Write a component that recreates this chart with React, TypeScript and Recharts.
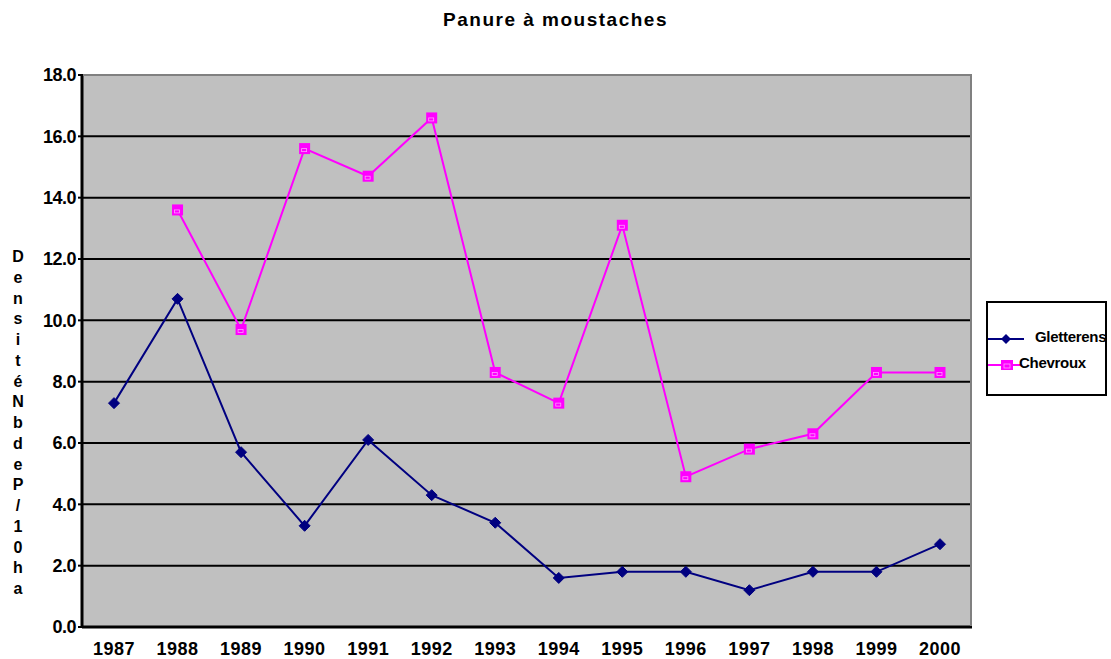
import React from "react";
import { LineChart, Line, XAxis, YAxis, CartesianGrid } from "recharts";

const years = ["1987", "1988", "1989", "1990", "1991", "1992", "1993", "1994", "1995", "1996", "1997", "1998", "1999", "2000"];
const gletterens = [7.3, 10.7, 5.7, 3.3, 6.1, 4.3, 3.4, 1.6, 1.8, 1.8, 1.2, 1.8, 1.8, 2.7];
const chevroux: (number | null)[] = [null, 13.6, 9.7, 15.6, 14.7, 16.6, 8.3, 7.3, 13.1, 4.9, 5.8, 6.3, 8.3, 8.3];
const yTicks = [0, 2, 4, 6, 8, 10, 12, 14, 16, 18];
const title = "Panure à moustaches";
const yLabel = "DensitéNbdeP/10ha";
const seriesNames = ["Gletterens", "Chevroux"];

const data = years.map((y, i) => ({ year: y, g: gletterens[i], c: chevroux[i] }));

const NAVY = "#000080";
const MAGENTA = "#FF00FF";
const FONT = "'Liberation Sans', Arial, sans-serif";

const Diamond = (props: any) => {
  const { cx, cy } = props;
  if (cx == null || cy == null || props.value == null) return null;
  const s = 5.5;
  return (
    <path
      key={`d-${props.index}`}
      d={`M${cx},${cy - s} L${cx + s},${cy} L${cx},${cy + s} L${cx - s},${cy} Z`}
      fill={NAVY}
      stroke={NAVY}
    />
  );
};

const Square = (props: any) => {
  const { cx, cy } = props;
  if (cx == null || cy == null || props.value == null) return null;
  const s = 5.5;
  return (
    <g key={`s-${props.index}`}>
      <rect x={cx - s} y={cy - s} width={2 * s} height={2 * s} fill={MAGENTA} />
      <rect x={cx - 3} y={cy} width={5} height={3} fill="none" stroke="#FF9CFF" strokeWidth={0.8} />
    </g>
  );
};

export default function App() {
  return (
    <div style={{ position: "absolute", left: 0, top: 0, width: 1111, height: 659, background: "#fff", fontFamily: FONT }}>
      <div
        style={{
          position: "absolute",
          left: 0,
          width: 1111,
          top: 9,
          textAlign: "center",
          fontWeight: "bold",
          fontSize: 19,
          letterSpacing: 1.5,
          color: "#000",
        }}
      >
        {title}
      </div>
      <LineChart
        width={1111}
        height={659}
        data={data}
        margin={{ top: 75, right: 139, bottom: 2, left: 22 }}
      >
        <CartesianGrid vertical={false} horizontal={true} stroke="#000" strokeWidth={2} fill="#C0C0C0" fillOpacity={1} />
        <XAxis
          dataKey="year"
          padding={{ left: 32, right: 32 }}
          axisLine={{ stroke: "#000", strokeWidth: 3 }}
          tickLine={false}
          height={30}
          tick={{ fill: "#000", fontSize: 18, fontWeight: "bold", fontFamily: FONT, letterSpacing: 0.5 }}
          tickMargin={9}
          interval={0}
        />
        <YAxis
          domain={[0, 18]}
          ticks={yTicks}
          width={60}
          axisLine={{ stroke: "#000", strokeWidth: 3 }}
          tickLine={{ stroke: "#000", strokeWidth: 2 }}
          tickSize={4}
          tick={{ fill: "#000", fontSize: 18, fontWeight: "bold", fontFamily: FONT, letterSpacing: -0.5 }}
          tickFormatter={(v: number) => v.toFixed(1)}
          interval={0}
        />
        <Line
          type="linear"
          dataKey="g"
          stroke={NAVY}
          strokeWidth={2}
          dot={Diamond}
          activeDot={false}
          isAnimationActive={false}
        />
        <Line
          type="linear"
          dataKey="c"
          stroke={MAGENTA}
          strokeWidth={2}
          dot={Square}
          activeDot={false}
          isAnimationActive={false}
          connectNulls={false}
        />
      </LineChart>
      {/* plot border */}
      <div
        style={{
          position: "absolute",
          left: 83,
          top: 74,
          width: 889,
          height: 552,
          borderTop: "2px solid #808080",
          borderRight: "2px solid #808080",
          boxSizing: "border-box",
          pointerEvents: "none",
        }}
      />
      {/* vertical y label */}
      <div
        style={{
          position: "absolute",
          left: 8,
          top: 247,
          width: 20,
          textAlign: "center",
          fontWeight: "bold",
          fontSize: 16,
          lineHeight: "20.75px",
          color: "#000",
        }}
      >
        {yLabel.split("").map((ch, i) => (
          <div key={i}>{ch}</div>
        ))}
      </div>
      {/* legend */}
      <div
        style={{
          position: "absolute",
          left: 986,
          top: 301,
          width: 121,
          height: 95,
          border: "2px solid #000",
          boxSizing: "border-box",
          background: "#fff",
        }}
      >
        <svg width={117} height={91} style={{ position: "absolute", left: 0, top: 0 }}>
          <line x1={0} y1={36} x2={36} y2={36} stroke={NAVY} strokeWidth={2} />
          <path d="M18,31 L23,36 L18,41 L13,36 Z" fill={NAVY} />
          <line x1={0} y1={62} x2={34} y2={62} stroke={MAGENTA} strokeWidth={2} />
          <rect x={13} y={57} width={12} height={10} fill={MAGENTA} />
          <rect x={16} y={61} width={6} height={4} fill="none" stroke="#FF9CFF" strokeWidth={0.8} />
        </svg>
        <div style={{ position: "absolute", left: 47, top: 25, fontSize: 15, fontWeight: "bold", whiteSpace: "nowrap", letterSpacing: -0.3 }}>
          {seriesNames[0]}
        </div>
        <div style={{ position: "absolute", left: 31, top: 51, fontSize: 15, fontWeight: "bold", whiteSpace: "nowrap", letterSpacing: -0.3 }}>
          {seriesNames[1]}
        </div>
      </div>
    </div>
  );
}
